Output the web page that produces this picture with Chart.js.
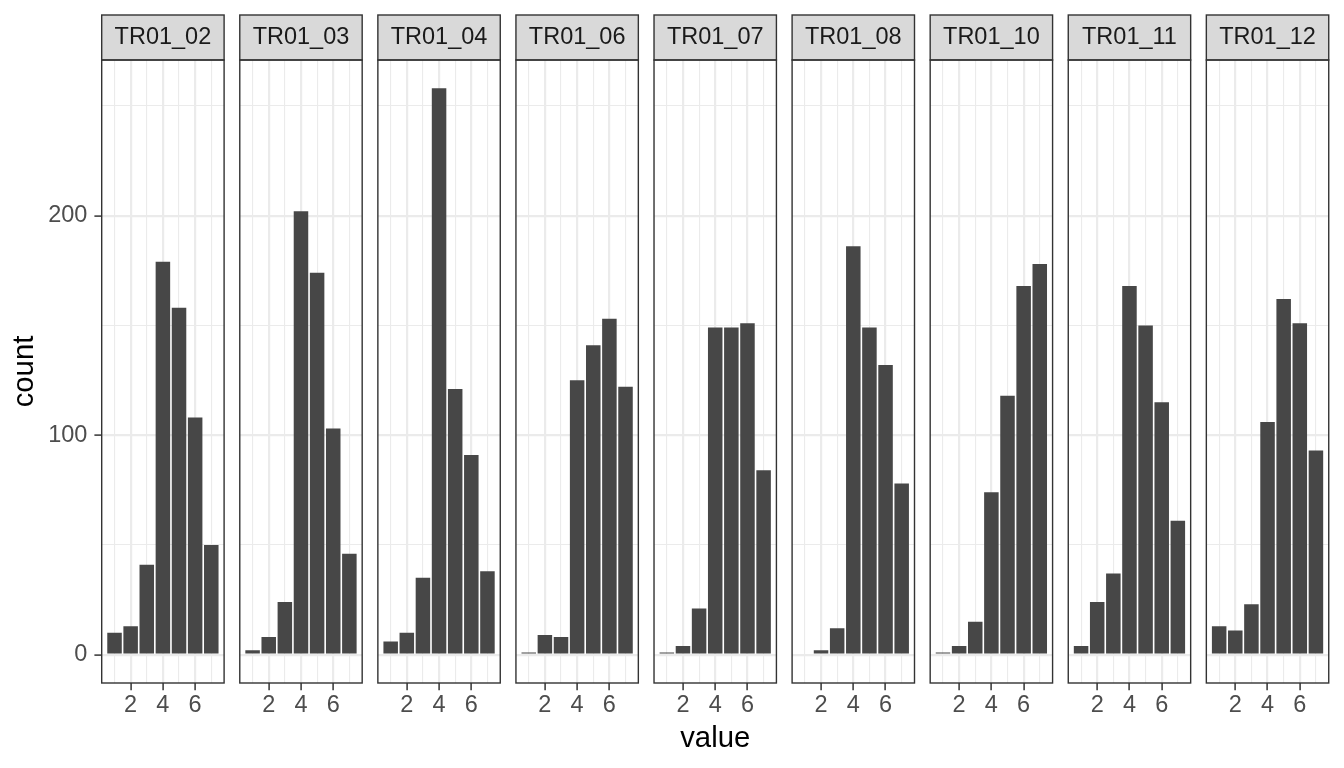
<!doctype html>
<html lang="en">
<head>
    <meta charset="utf-8">
    <title>count by value</title>
    <script src="https://cdn.jsdelivr.net/npm/chart.js@4.4.1/dist/chart.umd.min.js"></script>
</head>
<style>
    body{
        margin: 0;
        background: #fff;
        font-family: 'Liberation Sans', Arial, sans-serif;
    }
    #wrap{ position: relative; width: 1344px; height: 768px; }
    #wrap canvas{ position: absolute; left: 0; top: 0; }
</style>
<body>
    <div id="wrap"></div>
</body>
<script>
        // facet labels and x values
        const panels = ["TR01_02", "TR01_03", "TR01_04", "TR01_06", "TR01_07", "TR01_08", "TR01_10", "TR01_11", "TR01_12"];
        const values = [1, 2, 3, 4, 5, 6, 7];

        // counts per value, one array per facet
        const tr01_02 = [10, 13, 41, 179, 158, 108, 50];
        const tr01_03 = [2, 8, 24, 202, 174, 103, 46];
        const tr01_04 = [6, 10, 35, 258, 121, 91, 38];
        const tr01_06 = [1, 9, 8, 125, 141, 153, 122];
        const tr01_07 = [1, 4, 21, 149, 149, 151, 84];
        const tr01_08 = [0, 2, 12, 186, 149, 132, 78];
        const tr01_10 = [1, 4, 15, 74, 118, 168, 178];
        const tr01_11 = [4, 24, 37, 168, 150, 115, 61];
        const tr01_12 = [13, 11, 23, 106, 162, 151, 93];
        const counts = [tr01_02, tr01_03, tr01_04, tr01_06, tr01_07, tr01_08, tr01_10, tr01_11, tr01_12];

        // ticks
        const xTicks = [1, 2, 3, 4, 5, 6, 7];
        const xLabels = [2, 4, 6];
        const yTicks = [0, 50, 100, 150, 200, 250];
        const yLabels = [0, 100, 200];

        // page layout in px
        const W = 1344, H = 768;
        const firstLeft = 101.7, panelW = 122.4, panelStep = 138.08;
        const plotTop = 60, plotBottom = 683, stripTop = 15;
        const family = "'Liberation Sans', Arial, sans-serif";

        let stripPlugin = {
            id: 'strip',
            afterDraw(chart, args, opts){
                const ctx = chart.ctx;
                const a = chart.chartArea;
                ctx.save();
                ctx.fillStyle = '#D9D9D9';
                ctx.fillRect(a.left, stripTop, a.right - a.left, a.top - stripTop);
                ctx.strokeStyle = '#333333';
                ctx.lineWidth = 1.4;
                ctx.strokeRect(a.left, stripTop, a.right - a.left, a.top - stripTop);
                ctx.strokeRect(a.left, a.top, a.right - a.left, a.bottom - a.top);
                ctx.fillStyle = '#1A1A1A';
                ctx.font = '23.5px ' + family;
                ctx.textAlign = 'center';
                ctx.textBaseline = 'middle';
                ctx.fillText(opts.label, (a.left + a.right) / 2, (stripTop + a.top) / 2 + 0.5);
                ctx.restore();
            }
        };

        let isMajor = (c, list) => c.tick && list.includes(c.tick.value);

        let makePanel = (i) => {
            const canvas = document.createElement('canvas');
            canvas.width = W;
            canvas.height = H;
            document.getElementById('wrap').appendChild(canvas);

            const left = firstLeft + i * panelStep;
            const first = i === 0;

            new Chart(canvas, {
                type: 'bar',
                data: {
                    datasets: [{
                        data: values.map((v, k) => ({x: v, y: counts[i][k]})),
                        backgroundColor: '#474747',
                        borderWidth: 0,
                        barPercentage: 0.9,
                        categoryPercentage: 1
                    }]
                },
                options: {
                    responsive: false,
                    animation: false,
                    layout: {
                        padding: {left: first ? 0 : left, right: W - left - panelW, top: plotTop, bottom: 0}
                    },
                    plugins: {
                        legend: {display: false},
                        tooltip: {enabled: false},
                        strip: {label: panels[i]}
                    },
                    scales: {
                        x: {
                            type: 'linear',
                            min: 0.205,
                            max: 7.795,
                            offset: false,
                            border: {display: false},
                            grid: {
                                offset: false,
                                color: '#EBEBEB',
                                lineWidth: c => isMajor(c, xLabels) ? 2.2 : 1.1,
                                tickColor: c => isMajor(c, xLabels) ? '#333333' : 'rgba(0,0,0,0)',
                                tickWidth: 1.5,
                                tickLength: 7.3
                            },
                            ticks: {
                                autoSkip: false,
                                maxRotation: 0,
                                padding: 1,
                                color: '#4D4D4D',
                                font: {family: family, size: 23.5},
                                callback: v => xLabels.includes(v) ? v : ''
                            },
                            title: {
                                display: i === 4,
                                text: 'value',
                                color: '#000000',
                                font: {family: family, size: 29.3},
                                padding: {top: 0, bottom: 12}
                            },
                            afterBuildTicks: s => { s.ticks = xTicks.map(v => ({value: v})); },
                            afterFit: s => { s.height = H - plotBottom; }
                        },
                        y: {
                            min: -12.9,
                            max: 270.9,
                            border: {display: false},
                            grid: {
                                color: '#EBEBEB',
                                lineWidth: c => isMajor(c, yLabels) ? 2.2 : 1.1,
                                drawTicks: first,
                                tickColor: c => isMajor(c, yLabels) ? '#333333' : 'rgba(0,0,0,0)',
                                tickWidth: 1.5,
                                tickLength: 7.3
                            },
                            ticks: {
                                display: first,
                                padding: 7,
                                color: '#4D4D4D',
                                font: {family: family, size: 23.5},
                                callback: v => yLabels.includes(v) ? v : ''
                            },
                            title: {
                                display: first,
                                text: 'count',
                                color: '#000000',
                                font: {family: family, size: 29.3},
                                padding: {top: 7, bottom: 0}
                            },
                            afterBuildTicks: s => { s.ticks = yTicks.map(v => ({value: v})); },
                            afterFit: s => { s.width = first ? firstLeft : 0; }
                        }
                    }
                },
                plugins: [stripPlugin]
            });
        };

        panels.forEach((p, i) => makePanel(i));
</script>
</html>
